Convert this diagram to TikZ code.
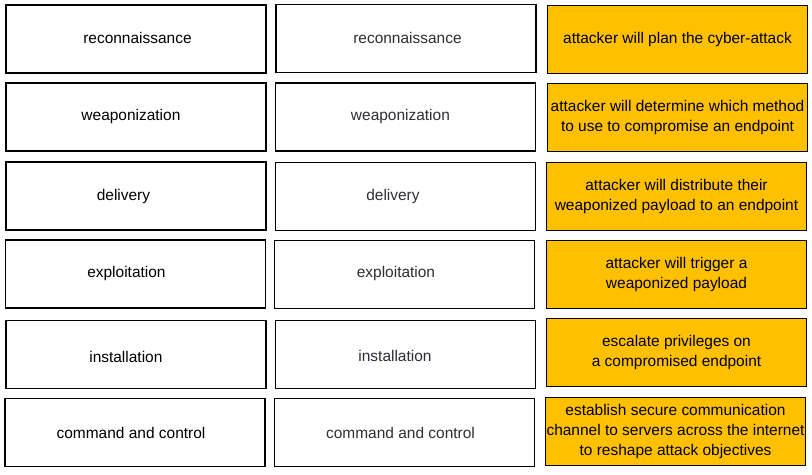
\documentclass[tikz,border=0pt]{standalone}
\usepackage{fontspec}
\setmainfont{Liberation Sans}
\definecolor{gold}{HTML}{FFC000}
\definecolor{midtext}{HTML}{2E2E34}
\begin{document}
\begin{tikzpicture}[x=0.75pt,y=-0.75pt,
  box/.style={draw=black, line width=1pt, fill=white, minimum width=195pt, minimum height=51pt,
    inner sep=0pt, align=center, font=\fontsize{11.6}{15}\selectfont},
  lbl/.style={inner sep=0pt, font=\fontsize{11.6}{15}\selectfont},
  term/.style={box, text=black},
  dup/.style={box, text=midtext},
  desc/.style={box, fill=gold, text=black}]
\useasboundingbox (0,0) rectangle (812,474);
% column 1
\node[term, label={[lbl, xshift=1.1pt, yshift=0.6pt]center:reconnaissance}] (a1) at (136,39) {};
\node[term, label={[lbl, xshift=-3.8pt]center:weaponization}] (a2) at (136,117) {};
\node[term, label={[lbl, xshift=-9.4pt]center:delivery}] (a3) at (136,196) {};
\node[term, label={[lbl, xshift=-6.8pt, yshift=0.5pt]center:exploitation}] (a4) at (135.5,274) {};
\node[term, label={[lbl, xshift=-7.6pt, yshift=-1.5pt]center:installation}] (a5) at (136,354.5) {};
\node[term, label={[lbl, xshift=-3pt]center:command and control}] (a6) at (135,432.5) {};
% column 2
\node[dup, label={[lbl, text=midtext, xshift=1.1pt, yshift=0.6pt]center:reconnaissance}] (b1) at (406,38.5) {};
\node[dup, label={[lbl, text=midtext, xshift=-3.8pt]center:weaponization}] (b2) at (405.5,117) {};
\node[dup, label={[lbl, text=midtext, xshift=-9.4pt]center:delivery}] (b3) at (405.5,196.5) {};
\node[dup, label={[lbl, text=midtext, xshift=-6.4pt, yshift=0.5pt]center:exploitation}] (b4) at (404.5,274.5) {};
\node[dup, label={[lbl, text=midtext, xshift=-7.9pt, yshift=-1.2pt]center:installation}] (b5) at (405.5,354.5) {};
\node[dup, label={[lbl, text=midtext, xshift=-3pt]center:command and control}] (b6) at (404.5,432.5) {};
% column 3
\node[desc] (c1) at (677.5,39.5) {attacker will plan the cyber-attack};
\node[desc] (c2) at (677.5,117.5) {attacker will determine which method\\to use to compromise an endpoint};
\node[desc] (c3) at (676.5,196.5) {attacker will distribute their\\weaponized payload to an endpoint};
\node[desc] (c4) at (676.5,274.5) {attacker will trigger a\\weaponized payload};
\node[desc] (c5) at (676.5,352.5) {escalate privileges on\\a compromised endpoint};
\node[desc] (c6) at (675.5,431.5) {establish secure communication\\channel to servers across the internet\\to reshape attack objectives};
\end{tikzpicture}
\end{document}
